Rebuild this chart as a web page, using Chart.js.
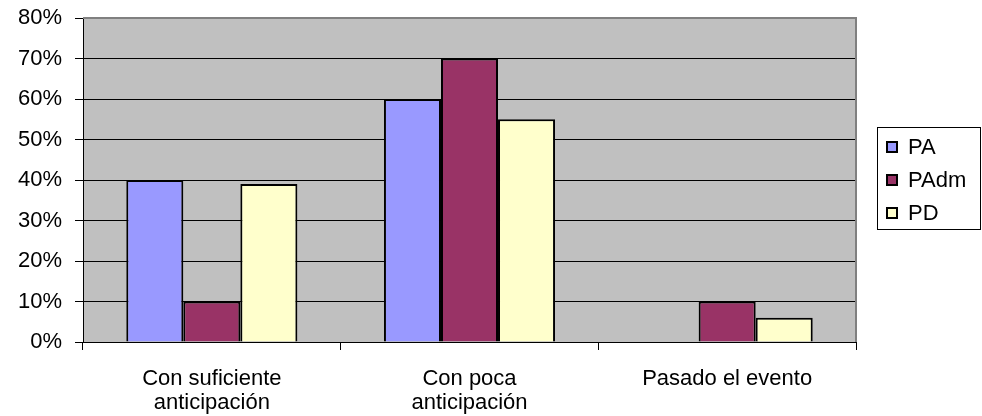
<!DOCTYPE html>
<html>
<head>
<meta charset="utf-8">
<script src="https://cdn.jsdelivr.net/npm/chart.js@4/dist/chart.umd.min.js"></script>
<style>
  html, body { margin: 0; padding: 0; background: #fff; }
  #wrap { width: 982px; height: 416px; }
</style>
</head>
<body>
<div id="wrap"><canvas id="c" width="982" height="416"></canvas></div>
<script>
// Categories (two-line labels) and the three series, in percent
const categories = [
  ['Con suficiente', 'anticipación'],
  ['Con poca', 'anticipación'],
  ['Pasado el evento']
];
const seriesNames = ['PA', 'PAdm', 'PD'];
const valuesPA   = [40, 60, 0];
const valuesPAdm = [10, 70, 10];
const valuesPD   = [39, 55, 6];
const seriesColors = ['#9999FF', '#993366', '#FFFFCC'];
const yMax = 80;
const yStep = 10;

const FONT = "'Liberation Sans', Arial, sans-serif";
const FONT_SIZE = 22;

// Grey plot background with grey top/right frame
const plotFrame = {
  id: 'plotFrame',
  beforeDraw(chart) {
    const a = chart.chartArea, ctx = chart.ctx;
    ctx.save();
    ctx.fillStyle = '#C0C0C0';
    ctx.fillRect(a.left, a.top, a.right - a.left, a.bottom - a.top);
    ctx.restore();
  },
  beforeDatasetsDraw(chart) {
    const a = chart.chartArea, ctx = chart.ctx;
    ctx.save();
    ctx.strokeStyle = '#808080';
    ctx.lineWidth = 2;
    ctx.beginPath();
    ctx.moveTo(a.left, a.top);
    ctx.lineTo(a.right, a.top);
    ctx.lineTo(a.right, a.bottom);
    ctx.stroke();
    ctx.restore();
  }
};

// Boxed legend on the right
const boxedLegend = {
  id: 'boxedLegend',
  afterDraw(chart) {
    const ctx = chart.ctx;
    const x0 = 877, y0 = 127, w = 104, h = 103;
    const rowH = 33, firstY = 147;
    ctx.save();
    ctx.fillStyle = '#fff';
    ctx.fillRect(x0, y0, w, h);
    ctx.strokeStyle = '#000';
    ctx.lineWidth = 1;
    ctx.strokeRect(x0 + 0.5, y0 + 0.5, w - 1, h - 1);
    ctx.font = FONT_SIZE + 'px ' + FONT;
    ctx.textBaseline = 'middle';
    ctx.textAlign = 'left';
    chart.data.datasets.forEach((ds, i) => {
      const cy = firstY + i * rowH;
      ctx.fillStyle = ds.backgroundColor;
      ctx.fillRect(887, cy - 5, 10, 10);
      ctx.strokeStyle = '#000';
      ctx.lineWidth = 2;
      ctx.strokeRect(887, cy - 5, 10, 10);
      ctx.fillStyle = '#000';
      ctx.fillText(ds.label, 908, cy + 1);
    });
    ctx.restore();
  }
};

const datasets = [valuesPA, valuesPAdm, valuesPD].map((vals, i) => ({
  label: seriesNames[i],
  data: vals,
  backgroundColor: seriesColors[i],
  borderColor: '#000',
  borderWidth: 2,
  categoryPercentage: 0.664,
  barPercentage: 1.0
}));

new Chart(document.getElementById('c'), {
  type: 'bar',
  data: { labels: categories, datasets },
  plugins: [plotFrame, boxedLegend],
  options: {
    responsive: false,
    animation: false,
    devicePixelRatio: 1,
    layout: { padding: { top: 18, right: 126, bottom: 2, left: 0 } },
    plugins: {
      legend: { display: false },
      tooltip: { enabled: false }
    },
    scales: {
      x: {
        offset: true,
        afterFit(scale) { scale.height = 72; },
        grid: {
          offset: true,
          drawOnChartArea: false,
          drawTicks: true,
          tickLength: 8,
          color: '#000'
        },
        border: { color: '#000', width: 1 },
        ticks: {
          color: '#000',
          padding: 17,
          maxRotation: 0,
          autoSkip: false,
          font: { family: FONT, size: FONT_SIZE, lineHeight: '24px' }
        }
      },
      y: {
        min: 0,
        max: yMax,
        afterFit(scale) {
          scale.width = 83;
          scale.paddingTop = 0;
          scale.paddingBottom = 0;
        },
        grid: {
          color: '#000',
          lineWidth: 1,
          drawTicks: true,
          tickLength: 8
        },
        border: { color: '#000', width: 1 },
        ticks: {
          stepSize: yStep,
          color: '#000',
          padding: 13,
          font: { family: FONT, size: FONT_SIZE },
          callback: v => v + '%'
        }
      }
    }
  }
});
</script>
</body>
</html>
